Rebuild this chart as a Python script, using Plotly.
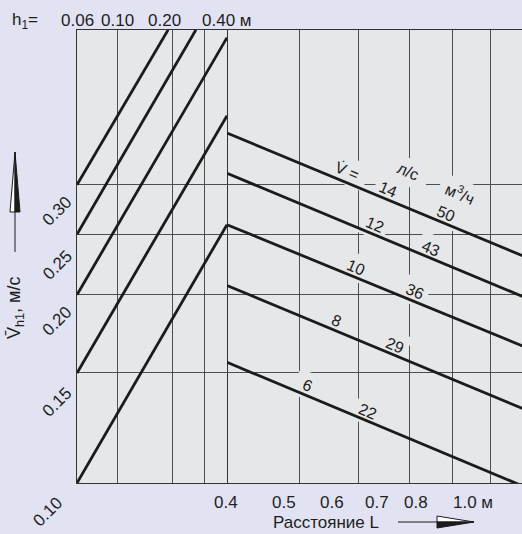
import numpy as np
import plotly.graph_objects as go

# ---------------- data ----------------
h1_ticks = [0.06, 0.10, 0.20, 0.30, 0.40]
h1_labels = ["0.06", "0.10", "0.20", "", "0.40 м"]
L_ticks = [0.4, 0.5, 0.6, 0.7, 0.8, 0.9, 1.0]
L_labels = ["0.4", "0.5", "0.6", "0.7", "0.8", "", "1.0 м"]
v_ticks = [0.10, 0.15, 0.20, 0.25, 0.30]
v_labels = ["0.10", "0.15", "0.20", "0.25", "0.30"]

# rising family (left panel): velocity vs h1
diag_h1_start = [0.06, 0.06, 0.06, 0.06, 0.06]
diag_v_start = [0.10, 0.15, 0.20, 0.25, 0.30]
diag_h1_end = [0.40, 0.40, 0.40, 0.27, 0.19]
diag_v_end = [0.259, 0.387, 0.516, 0.531, 0.531]

# falling family (right panel): velocity vs distance L for each flow rate
flow_lps = [6, 8, 10, 12, 14]
flow_m3h = [22, 29, 36, 43, 50]
flow_L_start = 0.4
flow_L_end = 1.0
flow_v_start = [0.156, 0.207, 0.259, 0.313, 0.363]
flow_v_end = [0.0985, 0.131, 0.165, 0.198, 0.230]

# ---------------- layout constants ----------------
W, H = 522, 534
ML, MR, MT, MB = 77, 0, 30, 51
PW, PH = W - ML - MR, H - MT - MB
split = 150 / PW
FONT = "Liberation Sans, Arial, sans-serif"
INK = "#1b1b1b"
GRID = "#4e4e4e"
PLOT_BG = "#e6e7e9"
X2_RANGE = [np.log10(0.4), np.log10(0.99)]
Y_RANGE = [-1, -1 + PH / 625]
X2_DEC_PER_PX = (X2_RANGE[1] - X2_RANGE[0]) / (PW * (1 - split))
Y_DEC_PER_PX = (Y_RANGE[1] - Y_RANGE[0]) / PH
ANG = 23


def px(x):
    return (x - ML) / PW


def py(y):
    return (H - MB - y) / PH


fig = go.Figure()

ann = []
shapes = []
mask_x, mask_y = [], []
f = dict(family=FONT, size=17, color="#1e1e1e")
fl = dict(family=FONT, size=16, color="#1e1e1e")

# flow labels along the falling lines
lps_label_L = [0.508, 0.554, 0.589, 0.624, 0.650]
m3h_label_L = [0.611, 0.664, 0.706, 0.742, 0.776]
k_slopes = [np.log10(ve / vs) / np.log10(flow_L_end / flow_L_start)
            for vs, ve in zip(flow_v_start, flow_v_end)]


def v_on(i, L):
    return flow_v_start[i] * (L / flow_L_start) ** k_slopes[i]


def label(Lp, vline, txt, ys, n_masks):
    ann.append(dict(x=np.log10(Lp), xref="x2", y=np.log10(vline), yref="y",
                    text=txt, showarrow=False, textangle=ANG, xanchor="center",
                    yanchor="middle", xshift=3, yshift=ys, font=fl))
    # gaps in the grid behind the label
    a = np.radians(ANG)
    offs = [0.0] if n_masks == 1 else [-8.0, 8.0]
    for o in offs:
        dxp = 3 + o * np.cos(a)
        dyp = ys - o * np.sin(a)
        mask_x.append(Lp * 10 ** (dxp * X2_DEC_PER_PX))
        mask_y.append(vline * 10 ** (dyp * Y_DEC_PER_PX))


for i in range(len(flow_lps)):
    label(lps_label_L[i], v_on(i, lps_label_L[i]), str(flow_lps[i]), 9, 1)
    label(m3h_label_L[i], v_on(i, m3h_label_L[i]), str(flow_m3h[i]), 9, 1)
top = len(flow_lps) - 1
for Lp, txt, ys, nm in ((0.573, "V\u0307 =", 11, 2), (0.691, "л/с", 35, 2),
                        (0.81, "м<sup>3</sup>/ч", 35, 2)):
    label(Lp, v_on(top, Lp), txt, ys, nm)

# grid gaps (drawn first, under the curves)
fig.add_trace(go.Scatter(x=mask_x, y=mask_y, mode="markers", xaxis="x2", yaxis="y",
                         marker=dict(symbol="square", size=27, angle=ANG, color=PLOT_BG,
                                     line=dict(width=0)),
                         showlegend=False, hoverinfo="skip"))

for hs, vs, he, ve in zip(diag_h1_start, diag_v_start, diag_h1_end, diag_v_end):
    fig.add_trace(go.Scatter(x=[hs, he], y=[vs, ve], mode="lines",
                             line=dict(color=INK, width=2.8),
                             xaxis="x", yaxis="y", showlegend=False, hoverinfo="skip"))

for vs, ve in zip(flow_v_start, flow_v_end):
    fig.add_trace(go.Scatter(x=[flow_L_start, flow_L_end], y=[vs, ve], mode="lines",
                             line=dict(color=INK, width=2.8),
                             xaxis="x2", yaxis="y", showlegend=False, hoverinfo="skip"))

# top h1 tick labels
h1_label_shift = [0, 0, -8, 0, 0]
for t, lab, s in zip(h1_ticks, h1_labels, h1_label_shift):
    if lab:
        ann.append(dict(x=np.log10(t), xref="x", y=py(20), yref="paper", text=lab,
                        showarrow=False, xanchor="center", yanchor="middle", xshift=s, font=f))
ann.append(dict(x=px(10), xref="paper", y=py(21), yref="paper", text="h<sub>1</sub>=",
                showarrow=False, xanchor="left", yanchor="middle", font=f))

# bottom L tick labels (printed offset from the grid in the original)
L_label_px = [226, 284, 332, 377, 416, None, 473]
for lab, xp in zip(L_labels, L_label_px):
    if lab:
        ann.append(dict(x=px(xp), xref="paper", y=py(502), yref="paper", text=lab,
                        showarrow=False, xanchor="center", yanchor="middle", font=f))
ann.append(dict(x=px(326), xref="paper", y=py(522), yref="paper", text="Расстояние L",
                showarrow=False, xanchor="center", yanchor="middle", font=f))

# left v tick labels, rotated
v_label_xpx = [47, 57, 57, 57, 57]
v_label_shift = [-29, -30, -27, -31, -27]
for t, lab, xp, s in zip(v_ticks, v_labels, v_label_xpx, v_label_shift):
    ann.append(dict(x=px(xp), xref="paper", y=np.log10(t), yref="y", text=lab,
                    showarrow=False, xanchor="center", yanchor="middle", textangle=-45,
                    yshift=s, font=f))
ann.append(dict(x=px(15), xref="paper", y=py(308), yref="paper",
                text="V\u0304<sub>h1</sub>, м/с", showarrow=False, textangle=-90,
                xanchor="center", yanchor="middle", font=dict(family=FONT, size=18, color="#1e1e1e")))

# arrows (decorations)
shapes.append(dict(type="line", xref="paper", yref="paper", x0=px(15), x1=px(15),
                   y0=py(252), y1=py(205), line=dict(color=INK, width=1)))
shapes.append(dict(type="path", xref="paper", yref="paper",
                   path=f"M {px(10)} {py(212)} L {px(15)} {py(152)} L {px(15)} {py(212)} Z",
                   fillcolor="white", line=dict(color=INK, width=1)))
shapes.append(dict(type="path", xref="paper", yref="paper",
                   path=f"M {px(15)} {py(212)} L {px(15)} {py(152)} L {px(20)} {py(212)} Z",
                   fillcolor=INK, line=dict(color=INK, width=1)))
shapes.append(dict(type="line", xref="paper", yref="paper", x0=px(398), x1=px(440),
                   y0=py(522), y1=py(522), line=dict(color=INK, width=1)))
shapes.append(dict(type="path", xref="paper", yref="paper",
                   path=f"M {px(437)} {py(522)} L {px(437)} {py(516)} L {px(474)} {py(522)} Z",
                   fillcolor="white", line=dict(color=INK, width=1)))
shapes.append(dict(type="path", xref="paper", yref="paper",
                   path=f"M {px(437)} {py(522)} L {px(474)} {py(522)} L {px(437)} {py(528)} Z",
                   fillcolor=INK, line=dict(color=INK, width=1)))

axis_common = dict(type="log", showticklabels=False, ticks="", showgrid=True,
                   gridcolor=GRID, gridwidth=1, zeroline=False, showline=True,
                   linecolor="#333", linewidth=1.2, mirror=True)

fig.update_layout(
    width=W, height=H, autosize=False,
    margin=dict(l=ML, r=MR, t=MT, b=MB, pad=0, autoexpand=False),
    paper_bgcolor="#e1e3f2",
    plot_bgcolor=PLOT_BG,
    xaxis=dict(domain=[0, split], range=[np.log10(0.06), np.log10(0.40)],
               tickvals=h1_ticks, anchor="y", **axis_common),
    xaxis2=dict(domain=[split, 1], range=X2_RANGE,
                tickvals=L_ticks, anchor="y", **axis_common),
    yaxis=dict(range=Y_RANGE, tickvals=v_ticks, anchor="x", **axis_common),
    annotations=ann,
    shapes=shapes,
    showlegend=False,
)

fig.write_html("out.html", config={"displayModeBar": False},
               post_script="document.body.style.margin='0';document.body.style.overflow='hidden';")
